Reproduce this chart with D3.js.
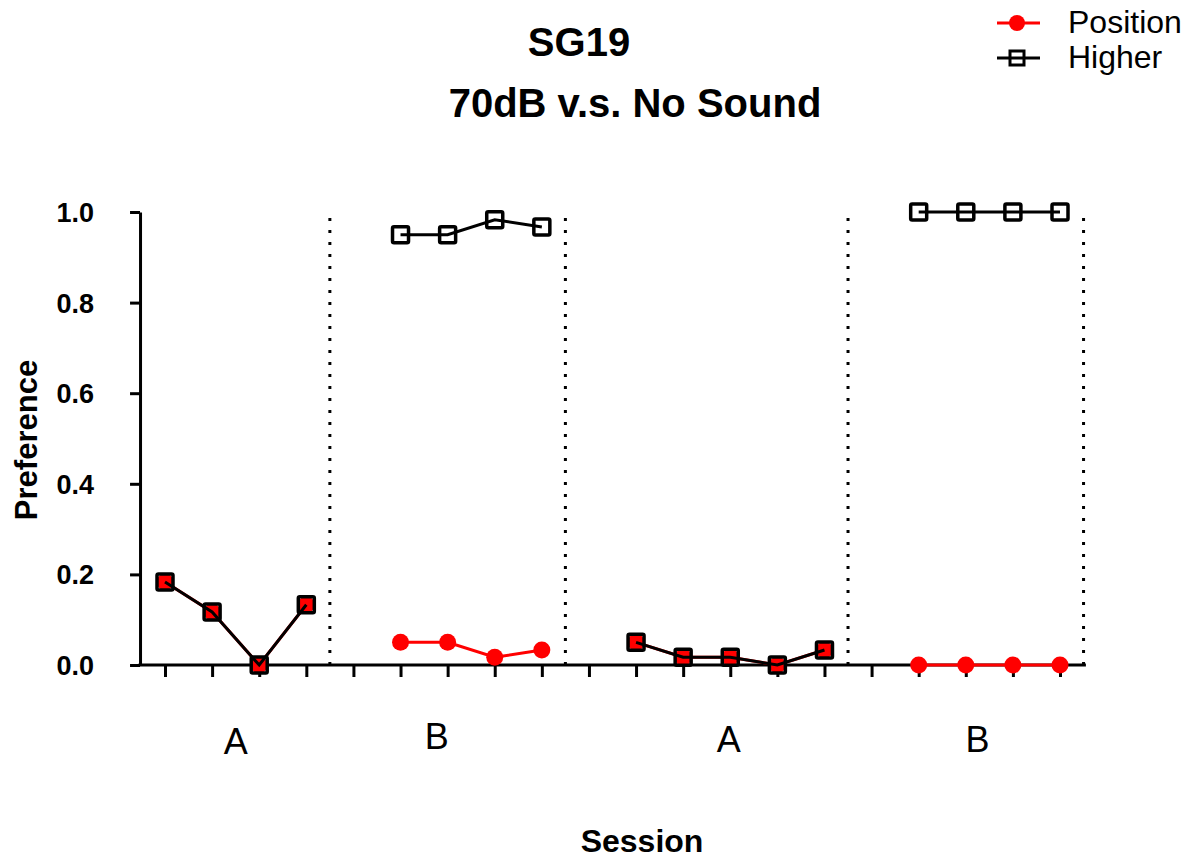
<!DOCTYPE html>
<html>
<head>
<meta charset="utf-8">
<script src="https://cdn.jsdelivr.net/npm/d3@7"></script>
<style>
  body { margin: 0; background: #fff; }
  svg { display: block; font-family: "Liberation Sans", Arial, sans-serif; }
</style>
</head>
<body>
<svg id="chart" width="1197" height="865"></svg>
<script>
// session numbers and the two series (null = no session, breaks the line)
var sessions = [1, 2, 3, 4, 5, 6, 7, 8, 9, 10, 11, 12, 13, 14, 15, 16, 17, 18, 19, 20];
var position = [0.183, 0.117, 0, 0.133, null, 0.05, 0.05, 0.017, 0.033, null,
                0.05, 0.017, 0.017, 0, 0.033, null, 0, 0, 0, 0];
var higher = [0.183, 0.117, 0, 0.133, null, 0.95, 0.95, 0.983, 0.967, null,
              0.05, 0.017, 0.017, 0, 0.033, null, 1, 1, 1, 1];

var phaseLabels = ['A', 'B', 'A', 'B'];
var phaseLabelAt = [2.5, 6.77, 12.97, 18.25];
var phaseBreaks = [4.5, 9.5, 15.5, 20.5];
var yTicks = [0, 0.2, 0.4, 0.6, 0.8, 1.0];

var svg = d3.select('#chart');

var x = d3.scaleLinear().domain([1, 20]).range([165, 1060]);
var y = d3.scaleLinear().domain([0, 1]).range([665, 212]);

// dotted phase separators
svg.append('g')
    .selectAll('line')
    .data(phaseBreaks)
    .join('line')
    .attr('x1', d => x(d))
    .attr('x2', d => x(d))
    .attr('y1', y(0))
    .attr('y2', y(1))
    .attr('stroke', '#000')
    .attr('stroke-width', 3)
    .attr('stroke-dasharray', '3,9');

// y axis
var yAxis = svg.append('g')
    .attr('transform', 'translate(' + x(0.47) + ',0)')
    .call(d3.axisLeft(y).tickValues(yTicks).tickSize(10).tickPadding(36).tickSizeOuter(0)
        .tickFormat(d3.format('.1f')));
yAxis.select('.domain').attr('stroke-width', 3);
yAxis.selectAll('.tick line').attr('stroke-width', 3);
yAxis.selectAll('text')
    .attr('font-size', 27)
    .attr('font-weight', 'bold')
    .attr('font-family', '"Liberation Sans", Arial, sans-serif')
    .attr('dy', '0.35em');

// x axis
var xAxis = svg.append('g')
    .attr('transform', 'translate(0,' + y(0) + ')')
    .call(d3.axisBottom(x).tickValues(sessions).tickSize(12).tickSizeOuter(0).tickFormat(''));
xAxis.select('.domain').remove();
xAxis.selectAll('.tick line').attr('stroke-width', 3);
xAxis.append('line')
    .attr('x1', x(0.47) - 1.5)
    .attr('x2', x(20.55))
    .attr('stroke', '#000')
    .attr('stroke-width', 3);

// phase labels
svg.append('g')
    .selectAll('text')
    .data(phaseLabels)
    .join('text')
    .attr('x', (d, i) => x(phaseLabelAt[i]))
    .attr('y', (d, i) => [754, 749, 752, 752][i])
    .attr('text-anchor', 'middle')
    .attr('font-size', 36)
    .text(d => d);

var pts = sessions.map((s, i) => ({ s: s, p: position[i], h: higher[i] }));

// Position series (red)
svg.append('path')
    .datum(pts)
    .attr('fill', 'none')
    .attr('stroke', '#ff0000')
    .attr('stroke-width', 3)
    .attr('d', d3.line().defined(d => d.p != null).x(d => x(d.s)).y(d => y(d.p)));

svg.append('g')
    .selectAll('circle')
    .data(pts.filter(d => d.p != null))
    .join('circle')
    .attr('cx', d => x(d.s))
    .attr('cy', d => y(d.p))
    .attr('r', 8.5)
    .attr('fill', '#ff0000');

// Higher series (black hollow squares)
svg.append('path')
    .datum(pts)
    .attr('fill', 'none')
    .attr('stroke', '#000')
    .attr('stroke-width', 3)
    .attr('d', d3.line().defined(d => d.h != null).x(d => x(d.s)).y(d => y(d.h)));

var sq = 16;
svg.append('g')
    .selectAll('rect')
    .data(pts.filter(d => d.h != null))
    .join('rect')
    .attr('x', d => x(d.s) - sq / 2)
    .attr('y', d => y(d.h) - sq / 2)
    .attr('width', sq)
    .attr('height', sq)
    .attr('rx', 1.5)
    .attr('fill', 'none')
    .attr('stroke', '#000')
    .attr('stroke-width', 3.5);

// titles
svg.append('text')
    .attr('x', 579).attr('y', 56)
    .attr('text-anchor', 'middle')
    .attr('font-size', 40).attr('font-weight', 'bold')
    .text('SG19');
svg.append('text')
    .attr('x', 635).attr('y', 117)
    .attr('text-anchor', 'middle')
    .attr('font-size', 40).attr('font-weight', 'bold')
    .text('70dB v.s. No Sound');

// axis titles
svg.append('text')
    .attr('transform', 'translate(37,440) rotate(-90)')
    .attr('text-anchor', 'middle')
    .attr('font-size', 31).attr('font-weight', 'bold')
    .text('Preference');
svg.append('text')
    .attr('x', 642).attr('y', 852)
    .attr('text-anchor', 'middle')
    .attr('font-size', 32).attr('font-weight', 'bold')
    .text('Session');

// legend
var legend = svg.append('g');
legend.append('line')
    .attr('x1', 997).attr('x2', 1040).attr('y1', 23).attr('y2', 23)
    .attr('stroke', '#ff0000').attr('stroke-width', 3);
legend.append('circle')
    .attr('cx', 1017).attr('cy', 23).attr('r', 8)
    .attr('fill', '#ff0000');
legend.append('line')
    .attr('x1', 997).attr('x2', 1040).attr('y1', 58).attr('y2', 58)
    .attr('stroke', '#000').attr('stroke-width', 3);
legend.append('rect')
    .attr('x', 1010).attr('y', 51).attr('width', 14).attr('height', 14)
    .attr('fill', '#fff').attr('stroke', '#000').attr('stroke-width', 3);
legend.append('line')
    .attr('x1', 1010).attr('x2', 1024).attr('y1', 58).attr('y2', 58)
    .attr('stroke', '#000').attr('stroke-width', 3);
legend.append('text')
    .attr('x', 1068).attr('y', 33)
    .attr('font-size', 32)
    .text('Position');
legend.append('text')
    .attr('x', 1068).attr('y', 68)
    .attr('font-size', 32)
    .text('Higher');
</script>
</body>
</html>
